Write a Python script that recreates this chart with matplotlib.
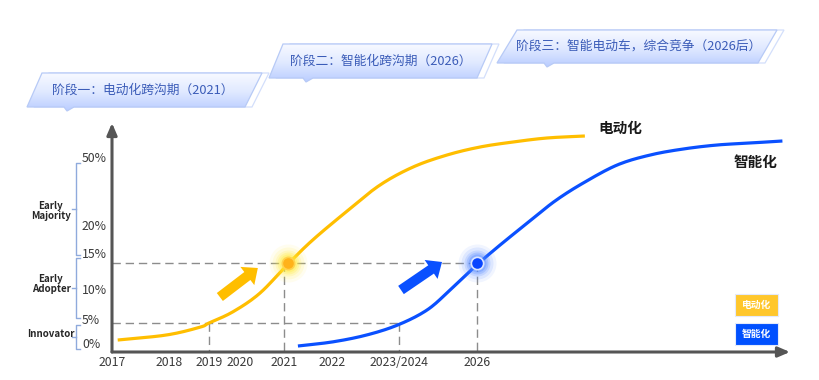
import numpy as np
import matplotlib
matplotlib.use('Agg')
import matplotlib.pyplot as plt
from matplotlib import transforms as mtransforms
from matplotlib.patches import Polygon, Rectangle

plt.rcParams['font.family'] = ['Noto Sans CJK SC', 'DejaVu Sans']

# ---------------- data ----------------
year_ticks = [2017, 2018, 2019, 2020, 2021, 2022, 2023.5, 2026]
year_labels = ['2017', '2018', '2019', '2020', '2021', '2022', '2023/2024', '2026']
pct_ticks = [0, 5, 10, 15, 20, 50]
pct_labels = ['0%', '5%', '10%', '15%', '20%', '50%']

ev_years = [2017.1, 2017.96, 2018.78, 2019.0, 2019.77, 2020.45, 2021.08, 2021.6,
            2022.34, 2023.07, 2023.95, 2025.04, 2026.1, 2027.17, 2028.27, 2029.5]
ev_pct = [1.3, 2.4, 4.1, 5.0, 6.8, 9.8, 14.8, 18.3, 27.5, 38.9, 46.9, 55, 63, 68, 72, 74]

smart_years = [2021.29, 2022.02, 2022.78, 2023.48, 2024.4, 2025.13, 2026.0, 2026.84,
               2027.72, 2028.53, 2029.44, 2030.55, 2031.62, 2032.69, 2033.79, 2034.87, 2035.91]
smart_pct = [0, 0.9, 2.4, 4.6, 7.1, 10.3, 14.7, 17.9, 23.1, 31.9, 39.8, 47.8, 55, 61, 65, 67, 69]

milestone_years = [2019, 2021, 2023.5, 2026]
milestone_pct = [5, 15, 5, 15]
marker_years = [2021.08, 2026.0]
marker_pct = [15, 15]

group_names = ['Innovator', 'Early\nAdopter', 'Early\nMajority']
group_bounds = [(0, 5), (5, 15), (15, 50)]

series_names = ['电动化', '智能化']
stage_texts = ['阶段一：电动化跨沟期（2021）',
               '阶段二：智能化跨沟期（2026）',
               '阶段三：智能电动车，综合竞争（2026后）']

# ---------------- scales (schematic, non-linear axes) ----------------
X_YR = [2017, 2018, 2019, 2020, 2021, 2022, 2023.5, 2026, 2037]
X_PX = [112, 169, 209, 240, 284, 332, 399, 477, 816]
Y_PCT = [-2, 0, 5, 10, 15, 20, 50, 100]
Y_PX = [0, 6, 29, 60, 89, 124, 192, 242]

def xf(v):
    return np.interp(v, X_YR, X_PX)

def xi(v):
    return np.interp(v, X_PX, X_YR)

def yf(v):
    return np.interp(v, Y_PCT, Y_PX)

def yi(v):
    return np.interp(v, Y_PX, Y_PCT)

YELLOW = '#FFBE00'
BLUE = '#0A50FF'
AXC = '#555555'
DASH = '#8C8C8C'
TXT_BLUE = '#3B5CB8'

W, H = 820, 380
fig = plt.figure(figsize=(W / 100, H / 100), dpi=100)
fig.patch.set_facecolor('white')

# overlay axes in pixel coordinates for decorations
bg = fig.add_axes([0, 0, 1, 1])
bg.set_xlim(0, W)
bg.set_ylim(H, 0)
bg.axis('off')

ax = fig.add_axes([112 / W, 28 / H, (790 - 112) / W, (352 - 123) / H])
ax.set_xscale('function', functions=(xf, xi))
ax.set_yscale('function', functions=(yf, yi))
ax.set_xlim(2017, float(xi(790)))
ax.set_ylim(-2, float(yi(229)))
ax.patch.set_alpha(0)
for s in ax.spines.values():
    s.set_visible(False)

# axis arrows
for end in [(1, 0), (0, 1)]:
    ax.annotate('', xy=end, xytext=(0, 0), xycoords='axes fraction',
                arrowprops=dict(arrowstyle='-|>,head_length=0.7,head_width=0.3',
                                lw=2.2, color=AXC, shrinkA=0, shrinkB=0),
                annotation_clip=False, zorder=3)

# x ticks
ax.set_xticks(year_ticks, year_labels)
ax.tick_params(axis='x', length=0, pad=3, labelsize=8.8, labelcolor='#3a3a3a')
ax.set_yticks([])
ax.minorticks_off()

# y labels
ytrans = mtransforms.blended_transform_factory(bg.transData, ax.transData)
label_dy = {15: 8}
for v, lab in zip(pct_ticks, pct_labels):
    t = mtransforms.offset_copy(ytrans, fig=fig, x=0, y=label_dy.get(v, 2), units='dots')
    ax.text(82, v, lab, transform=t, ha='left', va='center', fontsize=8.8,
            color='#3a3a3a', clip_on=False)

# dashed guides
for lvl in sorted(set(milestone_pct)):
    xs = [yr for yr, p in zip(milestone_years, milestone_pct) if p == lvl]
    ax.plot([2017, max(xs)], [lvl, lvl], color=DASH, lw=1.0, dashes=(6, 3.5), zorder=2)
for yr, p in zip(milestone_years, milestone_pct):
    ax.plot([yr, yr], [p, -2], color=DASH, lw=1.0, dashes=(6, 3.5), zorder=2)

# curves: drawn as a smooth Catmull-Rom path through the read points (in display space)
fig.canvas.draw()

def smooth_line(xs, ys, **kw):
    pts = ax.transData.transform(np.column_stack([xs, ys]))
    P = np.vstack([2 * pts[0] - pts[1], pts, 2 * pts[-1] - pts[-2]])
    out = []
    ts = np.linspace(0, 1, 16, endpoint=False)
    for i in range(1, len(P) - 2):
        p0, p1, p2, p3 = P[i - 1], P[i], P[i + 1], P[i + 2]
        for t in ts:
            t2, t3 = t * t, t * t * t
            out.append(0.5 * ((2 * p1) + (-p0 + p2) * t +
                              (2 * p0 - 5 * p1 + 4 * p2 - p3) * t2 +
                              (-p0 + 3 * p1 - 3 * p2 + p3) * t3))
    out.append(pts[-1])
    out = np.array(out)
    d = ax.transData.inverted().transform(out)
    ax.plot(d[:, 0], d[:, 1], **kw)

smooth_line(ev_years, ev_pct, color=YELLOW, lw=2.3, solid_capstyle='butt', zorder=4)
smooth_line(smart_years, smart_pct, color=BLUE, lw=2.3, solid_capstyle='butt', zorder=4)

# glowing markers
def glow(x, y, core, halo, ring):
    for r, a in [(19, 0.08), (16, 0.12), (13, 0.17), (11, 0.24), (9, 0.32)]:
        ax.scatter([x], [y], s=(1.44 * r) ** 2, color=halo, alpha=a, lw=0, zorder=5)
    ax.scatter([x], [y], s=(1.44 * 7) ** 2, color=ring, lw=0, zorder=6)
    ax.scatter([x], [y], s=(1.44 * 5.3) ** 2, color=core, lw=0, zorder=7)

glow(marker_years[0], marker_pct[0], '#FFB21A', '#FFEC3A', '#FFD24D')
glow(marker_years[1], marker_pct[1], '#0A46FF', '#4F86FF', '#DCE6FF')

# fat arrows pointing at markers
def fat_arrow(x, y, tip, tail, color):
    tt = mtransforms.offset_copy(ax.transData, fig=fig, x=tip[0], y=tip[1], units='dots')
    tl = mtransforms.offset_copy(ax.transData, fig=fig, x=tail[0], y=tail[1], units='dots')
    ax.annotate('', xy=(x, y), xycoords=tt, xytext=(x, y), textcoords=tl,
                arrowprops=dict(arrowstyle='simple,head_length=0.95,head_width=1.65,tail_width=0.72',
                                color=color, lw=0, shrinkA=0, shrinkB=0, mutation_scale=10),
                zorder=6)

fat_arrow(marker_years[0], marker_pct[0], (-30, -5), (-68, -34), YELLOW)
fat_arrow(marker_years[1], marker_pct[1], (-35, 1), (-76, -27), BLUE)

# curve end labels
ax.annotate(series_names[0], xy=(ev_years[-1], ev_pct[-1]), xytext=(35, 8),
            textcoords='offset pixels', ha='center', va='center', fontsize=10.5,
            fontweight='bold', color='#1a1a1a', annotation_clip=False)
ax.annotate(series_names[1], xy=(smart_years[-1], smart_pct[-1]), xytext=(-27, -21),
            textcoords='offset pixels', ha='center', va='center', fontsize=10.5,
            fontweight='bold', color='#1a1a1a', annotation_clip=False)

# brackets and adopter group labels
inv_bg = bg.transData.inverted()

def to_bg_y(p):
    return inv_bg.transform(ax.transData.transform((2017, p)))[1]

edge_adj = [(3, 2), (-5, -5), (-8, 3)]   # pixel nudges (down positive)
label_adj = [-3, -4, 2]
BR = '#8FAADC'
for (lo, hi), name, (dlo, dhi), dl in zip(group_bounds, group_names, edge_adj, label_adj):
    ylo = to_bg_y(lo) + dlo
    yhi = to_bg_y(hi) + dhi
    ym = (ylo + yhi) / 2
    bg.plot([80, 76, 76, 80], [yhi, yhi, ylo, ylo], color=BR, lw=1.0)
    bg.plot([76, 72.5], [ym, ym], color=BR, lw=1.0)
    bg.text(51, ym + dl, name, ha='center', va='center', fontsize=7,
            fontweight='bold', color='#262626', linespacing=1.05)

# stage banners
def banner(tl, tr, br, bl, px, text, tx, ty):
    yb = bl[1]
    verts = [tl, tr, br, (px + 6, yb), (px - 1, yb + 4), (px - 4, yb), bl]
    out = Polygon([(x + 7, y) for x, y in [tl, tr, br, bl]], closed=True,
                  facecolor='none', edgecolor='#D3DFFB', lw=0.9, zorder=1)
    bg.add_patch(out)
    poly = Polygon(verts, closed=True, facecolor='none', edgecolor='#B7CAF6', lw=0.9, zorder=3)
    bg.add_patch(poly)
    grad = np.linspace(0, 1, 64).reshape(-1, 1)
    cmap = matplotlib.colors.LinearSegmentedColormap.from_list(
        'b', ['#F7F9FF', '#E0E9FF', '#BACDFF'])
    xs = [v[0] for v in verts]
    ys = [v[1] for v in verts]
    im = bg.imshow(grad, extent=(min(xs), max(xs), max(ys), min(ys)), cmap=cmap,
                   aspect='auto', zorder=2, origin='upper')
    clip = Polygon(verts, closed=True, transform=bg.transData)
    im.set_clip_path(clip)
    bg.text(tx, ty, text, ha='left', va='center', fontsize=9.2, color=TXT_BLUE, zorder=4)

banner((42, 73), (262, 73), (245, 107), (27, 107), 68, stage_texts[0], 52, 90)
banner((283, 44), (492, 44), (477, 78), (269, 78), 307, stage_texts[1], 290, 61)
banner((517, 30), (777, 30), (758, 63), (497, 63), 548, stage_texts[2], 516, 46)
bg.set_xlim(0, W)
bg.set_ylim(H, 0)

# legend boxes
for i, (name, col) in enumerate(zip(series_names, ['#FFC72C', '#0050FF'])):
    y0 = 294 + i * 29
    bg.add_patch(Rectangle((735, y0), 43, 22, facecolor=col, edgecolor='#E3EAFB', lw=0.8))
    bg.text(756.5, y0 + 11, name, ha='center', va='center', fontsize=7,
            fontweight='bold', color='white')

fig.savefig('out.png', dpi=100, facecolor='white')
